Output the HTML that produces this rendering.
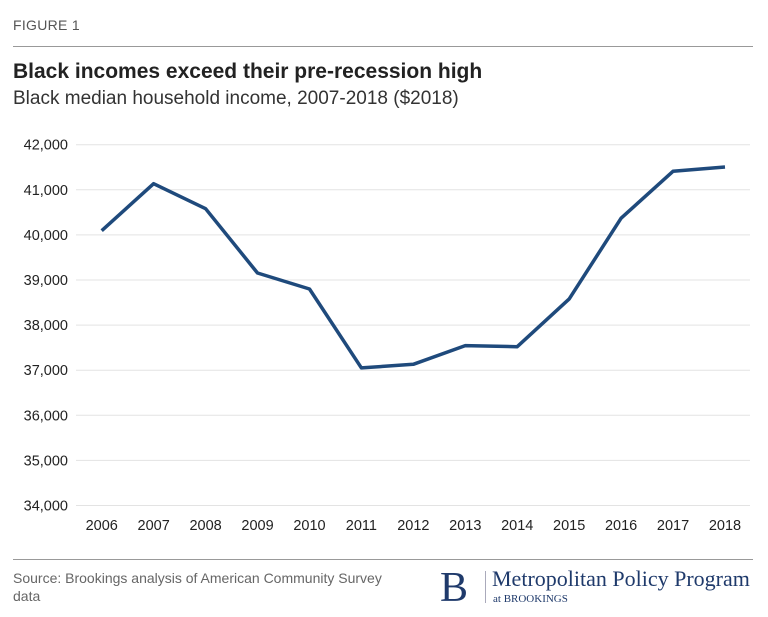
<!DOCTYPE html>
<html><head><meta charset="utf-8"><style>
body{margin:0;background:#fff;width:768px;height:617px;overflow:hidden;font-family:"Liberation Sans",sans-serif;position:relative}
.abs{position:absolute}
</style></head><body>
<div class="abs" style="left:13px;top:17px;font-size:14px;color:#555;letter-spacing:0.3px">FIGURE 1</div>
<div class="abs" style="left:13px;top:46px;width:740px;height:1px;background:#999"></div>
<div class="abs" style="left:13px;top:60px;font-size:21px;font-weight:bold;color:#222">Black incomes exceed their pre-recession high</div>
<div class="abs" style="left:13px;top:88px;font-size:19px;color:#333">Black median household income, 2007-2018 ($2018)</div>
<svg class="abs" style="left:0;top:0" width="768" height="617">
<g id="grid"></g><g id="yt"></g><g id="xt"></g><path id="ln" fill="none" stroke="#1f4a7c" stroke-width="3.5" stroke-linejoin="round"/>
</svg>
<div class="abs" style="left:13px;top:559px;width:740px;height:1px;background:#999"></div>
<div class="abs" style="left:13px;top:569px;font-size:14px;color:#666;line-height:18px;width:375px">Source: Brookings analysis of American Community Survey data</div>
<div class="abs" style="left:440px;top:566px;font-family:'Liberation Serif',serif;color:#1f3a6b">
<span style="position:absolute;left:0;top:-2px;font-size:42px">B</span>
<span style="position:absolute;left:45px;top:5px;width:1px;height:32px;background:#aab"></span>
<span style="position:absolute;left:52px;top:0px;font-size:22px;white-space:nowrap">Metropolitan Policy Program</span>
<span style="position:absolute;left:53px;top:27px;font-size:11px;white-space:nowrap">at BROOKINGS</span>
</div>
<script>
const years=[2006,2007,2008,2009,2010,2011,2012,2013,2014,2015,2016,2017,2018];
const income=[40093,41135,40580,39155,38800,37050,37130,37545,37520,38580,40370,41410,41505];
const yTicks=[34000,35000,36000,37000,38000,39000,40000,41000,42000];
const NS='http://www.w3.org/2000/svg';
const xs=y=>101.7+(y-2006)*51.94;
const ys=v=>144.7+(42000-v)*0.04510;
const grid=document.getElementById('grid'),yt=document.getElementById('yt'),xt=document.getElementById('xt');
yTicks.forEach(t=>{
 const l=document.createElementNS(NS,'line');
 
 
 l.setAttribute('x1',76);l.setAttribute('x2',750);l.setAttribute('y1',ys(t));l.setAttribute('y2',ys(t));
 l.setAttribute('stroke','#e3e3e3');l.setAttribute('stroke-width','1');grid.appendChild(l);
 const tx=document.createElementNS(NS,'text');
 
 
 tx.setAttribute('x',68);tx.setAttribute('y',ys(t)+5);tx.setAttribute('text-anchor','end');
 tx.setAttribute('font-size','14.5');tx.setAttribute('fill','#222');
 tx.textContent=t.toLocaleString('en-US');yt.appendChild(tx);
});
years.forEach(y=>{
 const tx=document.createElementNS(NS,'text');
 
 
 tx.setAttribute('x',xs(y));tx.setAttribute('y',530);tx.setAttribute('text-anchor','middle');
 tx.setAttribute('font-size','14.5');tx.setAttribute('fill','#222');
 tx.textContent=y;xt.appendChild(tx);
});
const ln=document.getElementById('ln');


ln.setAttribute('d',years.map((y,i)=>(i?'L':'M')+xs(y).toFixed(1)+','+ys(income[i]).toFixed(1)).join(''));
</script>
</body></html>
